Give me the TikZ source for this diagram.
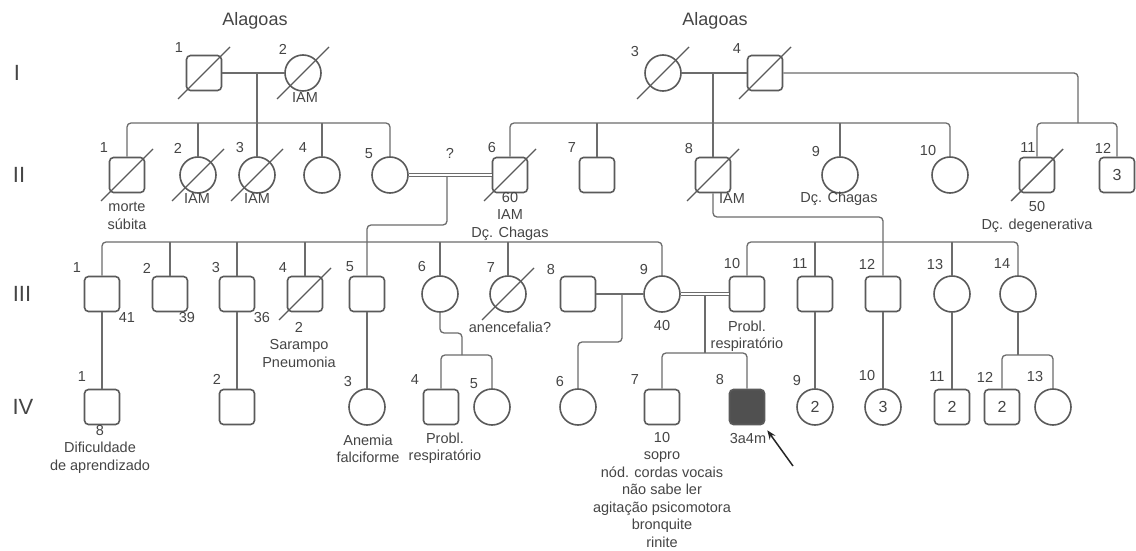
\documentclass[tikz,border=0pt]{standalone}
\usepackage{fontspec}
\setmainfont{Liberation Sans}
\usetikzlibrary{arrows.meta,calc}
\definecolor{edgegray}{HTML}{5A5A5A}
\definecolor{wiregray}{HTML}{6C6C6C}
\definecolor{txtgray}{HTML}{454545}
\definecolor{affgray}{HTML}{505050}

\begin{document}
\begin{tikzpicture}[x=1pt,y=-1pt,
  male/.style={draw=edgegray, line width=1.6pt, fill=white, rectangle, rounded corners=4pt,
    minimum size=35pt, inner sep=0pt, font=\fontsize{16}{16}\selectfont, text=txtgray},
  female/.style={draw=edgegray, line width=1.6pt, fill=white, circle,
    minimum size=36pt, inner sep=0pt, font=\fontsize{16}{16}\selectfont, text=txtgray},
  affected/.style={fill=affgray},
  ln/.style={draw=wiregray, line width=1.3pt, rounded corners=4pt},
  consang/.style={draw=wiregray, line width=1.1pt, double=white, double distance=2.2pt},
  slash/.style={draw=edgegray, line width=1.4pt},
  num/.style={font=\fontsize{14.5}{14.5}\selectfont, text=txtgray, inner sep=0pt},
  lab/.style={font=\fontsize{14.5}{17.5}\selectfont, text=txtgray, inner sep=0pt, align=center},
  gen/.style={font=\fontsize{22}{22}\selectfont, text=txtgray, inner sep=0pt},
  place/.style={font=\fontsize{18}{18}\selectfont, text=txtgray, inner sep=0pt},
]
\fill[white] (0,0) rectangle (1136,551);
\useasboundingbox (0,0) rectangle (1136,551);

% generation labels and origins
\node[gen] (gI)   at (17,73)  {I};
\node[gen] (gII)  at (19,175) {II};
\node[gen] (gIII) at (22,294) {III};
\node[gen] (gIV)  at (23,407) {IV};
\node[place] (orgA) at (255,21) {Alagoas};
\node[place] (orgB) at (715,21) {Alagoas};

% generation I
\node[male]   (I1) at (204,73) {};
\node[female] (I2) at (303,73) {};
\node[female] (I3) at (663,73) {};
\node[male]   (I4) at (765,73) {};

% generation II
\node[male]   (II1)  at (127,175)  {};
\node[female] (II2)  at (198,175)  {};
\node[female] (II3)  at (257,175)  {};
\node[female] (II4)  at (322,175)  {};
\node[female] (II5)  at (390,175)  {};
\node[male]   (II6)  at (510,175)  {};
\node[male]   (II7)  at (597,175)  {};
\node[male]   (II8)  at (713,175)  {};
\node[female] (II9)  at (840,175)  {};
\node[female] (II10) at (950,175)  {};
\node[male]   (II11) at (1037,175) {};
\node[male]   (II12) at (1117,175) {3};

% generation III
\node[male]   (III1)  at (102,294)  {};
\node[male]   (III2)  at (170,294)  {};
\node[male]   (III3)  at (237,294)  {};
\node[male]   (III4)  at (305,294)  {};
\node[male]   (III5)  at (367,294)  {};
\node[female] (III6)  at (440,294)  {};
\node[female] (III7)  at (508,294)  {};
\node[male]   (III8)  at (578,294)  {};
\node[female] (III9)  at (662,294)  {};
\node[male]   (III10) at (747,294)  {};
\node[male]   (III11) at (815,294)  {};
\node[male]   (III12) at (883,294)  {};
\node[female] (III13) at (952,294)  {};
\node[female] (III14) at (1018,294) {};

% generation IV
\node[male]   (IV1)  at (102,407)  {};
\node[male]   (IV2)  at (237,407)  {};
\node[female] (IV3)  at (367,407)  {};
\node[male]   (IV4)  at (441,407)  {};
\node[female] (IV5)  at (492,407)  {};
\node[female] (IV6)  at (578,407)  {};
\node[male]   (IV7)  at (662,407)  {};
\node[male,affected] (IV8) at (747,407) {};
\node[female] (IV9)  at (815,407)  {2};
\node[female] (IV10) at (883,407)  {3};
\node[male]   (IV11) at (952,407)  {2};
\node[male]   (IV12) at (1002,407) {2};
\node[female] (IV13) at (1053,407) {};

% deceased
\foreach \k in {I1,I2,I3,I4,II1,II2,II3,II6,II8,II11,III4,III7}
  \draw[slash] (\k.center) ++(-26,26) -- ++(52,-52);

% ---- unions and sibships ----
% I-1 x I-2
\draw[ln] (I1) -- (I2);
\coordinate (uI12) at (257,73);
\coordinate (sII) at (257,123);
\draw[ln] (uI12) -- (sII);
\draw[ln] (II1.north) -- (II1.north |- sII) -- (II5.north |- sII) -- (II5.north);
\foreach \k in {II2,II3,II4} \draw[ln] (\k.north) -- (\k.north |- sII);

% I-3 x I-4
\draw[ln] (I3) -- (I4);
\coordinate (uI34) at (713,73);
\coordinate (sIIb) at (713,123);
\draw[ln] (uI34) -- (II8.north);
\draw[ln] (II6.north) -- (II6.north |- sIIb) -- (II10.north |- sIIb) -- (II10.north);
\foreach \k in {II7,II9} \draw[ln] (\k.north) -- (\k.north |- sIIb);

% I-4, second sibship
\coordinate (kI4) at (1078,73);
\coordinate (sIIc) at (1078,123);
\draw[ln] (I4.east) -- (kI4) -- (sIIc);
\draw[ln] (II11.north) -- (II11.north |- sIIc) -- (II12.north |- sIIc) -- (II12.north);

% II-5 = II-6
\draw[consang] (II5) -- (II6);
\node[num] (qII56) at (450,153) {?};
\coordinate (uII56) at (447,177);
\coordinate (kA) at (447,225);
\draw[ln] (uII56) -- (kA) -- (kA -| III5.north) -- (III5.north);
\coordinate (sIII) at (380,242);
\draw[ln] (III1.north) -- (III1.north |- sIII) -- (III9.north |- sIII) -- (III9.north);
\foreach \k in {III2,III3,III4,III6,III7} \draw[ln] (\k.north) -- (\k.north |- sIII);

% II-8 descendants
\coordinate (kB) at (713,217);
\draw[ln] (II8.south) -- (kB) -- (kB -| III12.north) -- (III12.north);
\coordinate (sIIIb) at (883,242);
\draw[ln] (III10.north) -- (III10.north |- sIIIb) -- (III14.north |- sIIIb) -- (III14.north);
\foreach \k in {III11,III13} \draw[ln] (\k.north) -- (\k.north |- sIIIb);

% III-8 x III-9
\draw[ln] (III8) -- (III9);
\coordinate (uIII89) at (622,294);
\coordinate (kC) at (622,342);
\draw[ln] (uIII89) -- (kC) -- (kC -| IV6.north) -- (IV6.north);

% III-9 = III-10
\draw[consang] (III9) -- (III10);
\coordinate (uIII910) at (705,296);
\coordinate (sIVa) at (705,353);
\draw[ln] (uIII910) -- (sIVa);
\draw[ln] (IV7.north) -- (IV7.north |- sIVa) -- (IV8.north |- sIVa) -- (IV8.north);

% single-parent lines
\draw[ln] (III1) -- (IV1);
\draw[ln] (III3) -- (IV2);
\draw[ln] (III5) -- (IV3);
\draw[ln] (III11) -- (IV9);
\draw[ln] (III12) -- (IV10);
\draw[ln] (III13) -- (IV11);

\coordinate (kD) at (462,333);
\coordinate (sIVb) at (462,355);
\draw[ln] (III6.south) -- (III6.south |- kD) -- (kD) -- (sIVb);
\draw[ln] (IV4.north) -- (IV4.north |- sIVb) -- (IV5.north |- sIVb) -- (IV5.north);

\coordinate (sIVc) at (1018,355);
\draw[ln] (III14.south) -- (sIVc);
\draw[ln] (IV12.north) -- (IV12.north |- sIVc) -- (IV13.north |- sIVc) -- (IV13.north);

% proband arrow
\coordinate (ptr) at (793,466);
\draw[-{Stealth[length=9pt,width=7pt]}, line width=1.5pt, black!85] (ptr) -- ([shift={(2,5)}]IV8.south east);

% ---- individual numbers ----
\node[num] (nI1) at (179,48) {1};
\node[num] (nI2) at (283,49) {2};
\node[num] (nI3) at (635,52) {3};
\node[num] (nI4) at (737,49) {4};

\node[num] (nII1)  at (104,148) {1};
\node[num] (nII2)  at (178,148) {2};
\node[num] (nII3)  at (240,148) {3};
\node[num] (nII4)  at (303,148) {4};
\node[num] (nII5)  at (369,154) {5};
\node[num] (nII6)  at (492,148) {6};
\node[num] (nII7)  at (572,148) {7};
\node[num] (nII8)  at (689,149) {8};
\node[num] (nII9)  at (816,152) {9};
\node[num] (nII10) at (928,151) {10};
\node[num] (nII11) at (1028,148) {11};
\node[num] (nII12) at (1103,148) {12};

\node[num] (nIII1)  at (77,268)   {1};
\node[num] (nIII2)  at (147,268)  {2};
\node[num] (nIII3)  at (216,268)  {3};
\node[num] (nIII4)  at (283,268)  {4};
\node[num] (nIII5)  at (350,267)  {5};
\node[num] (nIII6)  at (422,267)  {6};
\node[num] (nIII7)  at (491,268)  {7};
\node[num] (nIII8)  at (551,270)  {8};
\node[num] (nIII9)  at (644,270)  {9};
\node[num] (nIII10) at (732,264)  {10};
\node[num] (nIII11) at (800,264)  {11};
\node[num] (nIII12) at (867,264)  {12};
\node[num] (nIII13) at (935,265)  {13};
\node[num] (nIII14) at (1002,264) {14};

\node[num] (nIV1)  at (82,377)   {1};
\node[num] (nIV2)  at (217,379)  {2};
\node[num] (nIV3)  at (348,382)  {3};
\node[num] (nIV4)  at (415,380)  {4};
\node[num] (nIV5)  at (474,384)  {5};
\node[num] (nIV6)  at (560,382)  {6};
\node[num] (nIV7)  at (635,380)  {7};
\node[num] (nIV8)  at (720,380)  {8};
\node[num] (nIV9)  at (797,381)  {9};
\node[num] (nIV10) at (867,376)  {10};
\node[num] (nIV11) at (937,377)  {11};
\node[num] (nIV12) at (985,377)  {12};
\node[num] (nIV13) at (1035,377) {13};

% ---- annotations ----
\node[lab] (tI2)   at (305,98)  {IAM};
\node[lab] (tII1)  at (127,216) {morte\\súbita};
\node[lab] (tII2)  at (197,199) {IAM};
\node[lab] (tII3)  at (257,199) {IAM};
\node[lab] (tII6)  at (510,216) {60\\IAM\\Dç. Chagas};
\node[lab] (tII8)  at (732,199) {IAM};
\node[lab] (tII9)  at (839,199) {Dç. Chagas};
\node[lab] (tII11) at (1037,217) {50\\Dç. degenerativa};

\node[lab] (tIII1)  at (127,318) {41};
\node[lab] (tIII2)  at (187,318) {39};
\node[lab] (tIII3)  at (262,318) {36};
\node[lab] (tIII4)  at (299,345) {2\\Sarampo\\Pneumonia};
\node[lab] (tIII7)  at (510,327) {anencefalia?};
\node[lab] (tIII9)  at (662,326) {40};
\node[lab] (tIII10) at (747,336) {Probl.\\respiratório};

\node[lab] (tIV1) at (100,449) {8\\Dificuldade\\de aprendizado};
\node[lab] (tIV3) at (368,449) {Anemia\\falciforme};
\node[lab] (tIV4) at (445,448) {Probl.\\respiratório};
\node[lab] (tIV7) at (662,490) {10\\sopro\\nód. cordas vocais\\não sabe ler\\agitação psicomotora\\bronquite\\rinite};
\node[lab] (tIV8) at (748,439) {3a4m};

\end{tikzpicture}
\end{document}
